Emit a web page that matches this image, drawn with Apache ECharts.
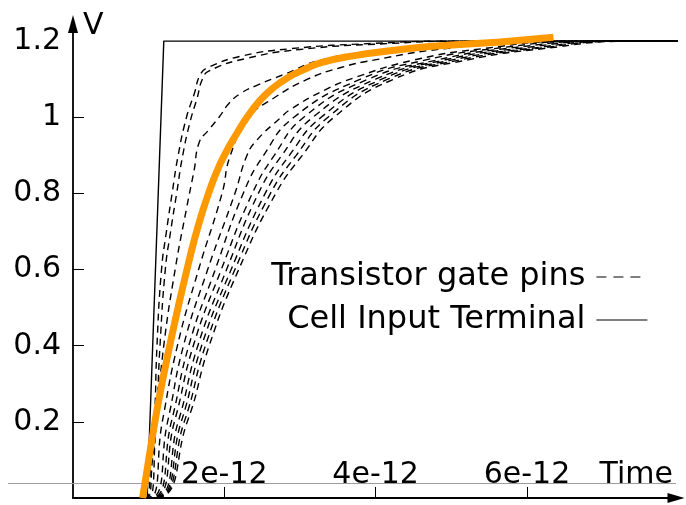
<!DOCTYPE html>
<html><head><meta charset="utf-8">
<script src="https://cdn.jsdelivr.net/npm/echarts@6/dist/echarts.min.js"></script>
<style>html,body{margin:0;padding:0;background:#fff}#c{width:686px;height:505px}</style>
</head><body><div id="c"></div>
<script>
// time values are in units of 1e-12 s, voltage in V
const X_TICKS = [2, 4, 6];
const X_TICK_LABELS = ['2e-12', '4e-12', '6e-12'];
const Y_TICKS = [0.2, 0.4, 0.6, 0.8, 1, 1.2];
const Y_TICK_LABELS = ['0.2', '0.4', '0.6', '0.8', '1', '1.2'];
const Y_TICK_MARKS = [0.2, 0.4, 0.6, 0.8, 1];
const X_NAME = 'Time';
const Y_NAME = 'V';
const LEGEND_GATE = 'Transistor gate pins';
const LEGEND_CELL = 'Cell Input Terminal';
const BASELINE_V = 0.038;

const cellInput = [[0,0],[0.98,0],[1.2,1.2],[8.05,1.2]];

const fitted = [[0.92,0],[1.0,0.1],[1.1,0.22],[1.2,0.325],[1.3,0.42],[1.4,0.51],[1.5,0.595],[1.6,0.675],[1.7,0.745],[1.8,0.805],[1.9,0.857],[2.0,0.9],[2.167,0.958],[2.3,1.0],[2.475,1.045],[2.65,1.078],[2.83,1.103],[3.05,1.125],[3.27,1.143],[3.66,1.16],[4.33,1.178],[5.0,1.19],[5.65,1.198],[6.35,1.21]];

const gateA  = [[0,0],[0.97,0],[1.03,0.1],[1.075,0.2],[1.11,0.4],[1.17,0.6],[1.235,0.7],[1.31,0.8],[1.39,0.9],[1.5,1.0],[1.6,1.06],[1.69,1.115],[1.8,1.132],[2.21,1.16],[2.87,1.18],[3.97,1.194],[5.0,1.2],[8.05,1.2]];
const gateA2 = [[0,0],[0.98,0],[1.05,0.1],[1.1,0.2],[1.15,0.4],[1.22,0.6],[1.29,0.7],[1.37,0.8],[1.45,0.9],[1.55,0.99],[1.64,1.05],[1.71,1.1],[1.8,1.122],[2.3,1.155],[3.0,1.178],[4.1,1.193],[5.2,1.2],[8.05,1.2]];
const gateB  = [[0,0],[1.0,0],[1.1,0.2],[1.2,0.4],[1.35,0.6],[1.5,0.76],[1.6,0.86],[1.67,0.935],[1.79,0.966],[1.93,1.0],[2.06,1.036],[2.21,1.062],[2.43,1.084],[2.78,1.112],[3.27,1.15],[4.0,1.172],[5.0,1.19],[6.0,1.198],[7.0,1.2],[8.05,1.2]];
const gateC  = [[0,0],[1.0,0],[1.18,0.2],[1.38,0.4],[1.66,0.6],[1.97,0.8],[2.08,0.9],[2.33,1.0],[2.65,1.05],[3.1,1.1],[3.53,1.13],[3.97,1.15],[4.9,1.18],[6.2,1.2],[8.05,1.2]];
const gateD  = [[0,0],[1.01,0],[1.25,0.2],[1.46,0.4],[1.78,0.6],[2.14,0.8],[2.3,0.9],[2.43,0.94],[2.75,1.0],[2.87,1.02],[3.31,1.07],[3.75,1.106],[4.5,1.15],[5.4,1.18],[6.6,1.2],[8.05,1.2]];
const gateE  = [[0,0],[1.02,0],[1.30,0.2],[1.53,0.4],[1.88,0.6],[2.25,0.8],[2.52,0.9],[2.92,1.0],[3.8,1.1],[4.65,1.15],[5.55,1.18],[6.8,1.2],[8.05,1.2]];
const gateF  = [[0,0],[1.03,0],[1.34,0.2],[1.59,0.4],[1.96,0.6],[2.37,0.8],[2.66,0.9],[3.05,1.0],[3.9,1.1],[4.8,1.15],[5.7,1.18],[7.0,1.2],[8.05,1.2]];
const gateG  = [[0,0],[1.04,0],[1.39,0.2],[1.65,0.4],[2.03,0.6],[2.45,0.8],[2.76,0.9],[3.17,1.0],[4.0,1.1],[4.9,1.15],[5.85,1.18],[7.1,1.2],[8.05,1.2]];
const gateH  = [[0,0],[1.05,0],[1.43,0.2],[1.70,0.4],[2.09,0.6],[2.54,0.8],[2.86,0.9],[3.28,1.0],[4.08,1.1],[5.0,1.15],[6.0,1.18],[7.2,1.2],[8.05,1.2]];
const gateI  = [[0,0],[1.06,0],[1.47,0.2],[1.75,0.4],[2.14,0.6],[2.61,0.8],[2.95,0.9],[3.37,1.0],[4.16,1.1],[5.1,1.15],[6.1,1.18],[7.3,1.2],[8.05,1.2]];
const gateJ  = [[0,0],[1.07,0],[1.51,0.2],[1.80,0.4],[2.19,0.6],[2.68,0.8],[3.03,0.9],[3.45,1.0],[4.24,1.1],[5.2,1.15],[6.2,1.18],[7.4,1.2],[8.05,1.2]];

const gateCurves = [gateA, gateA2, gateB, gateC, gateD, gateE, gateF, gateG, gateH, gateI, gateJ];

const FONT = 'DejaVu Sans';
const chart = echarts.init(document.getElementById('c'), null, {renderer: 'canvas'});

const series = gateCurves.map(d => ({
  name: LEGEND_GATE, type: 'line', data: d, showSymbol: false, symbol: 'none',
  smooth: 0.5, clip: false, z: 3,
  itemStyle: {color: '#000'},
  lineStyle: {color: '#000', width: 1.4, type: [7, 5]}
}));
series.push({
  name: LEGEND_CELL, type: 'line', data: cellInput, showSymbol: false, symbol: 'none',
  clip: false, z: 4, itemStyle: {color: '#000'},
  lineStyle: {color: '#000', width: 1.4, type: 'solid'}
});
series.push({
  name: 'fit', type: 'line', data: fitted, showSymbol: false, symbol: 'none',
  smooth: 0.5, clip: false, z: 5, itemStyle: {color: '#ff9900'},
  lineStyle: {color: '#ff9900', width: 7, cap: 'butt'}
});

const legendCommon = {
  orient: 'vertical', align: 'right', padding: 0, itemHeight: 14,
  itemStyle: {opacity: 0},
  textStyle: {fontFamily: FONT, fontSize: 32, color: '#000', padding: [0, 6, 0, 0]},
  selectedMode: false
};

chart.setOption({
  animation: false,
  backgroundColor: '#fff',
  grid: {left: 73, right: 10, top: 24, bottom: 7, containLabel: false},
  xAxis: {
    type: 'value', min: 0, max: 7.97,
    name: X_NAME, nameLocation: 'end', nameGap: -3,
    nameTextStyle: {fontFamily: FONT, fontSize: 30, color: '#000', align: 'right', verticalAlign: 'bottom', padding: [0, 0, 8, 0]},
    axisLine: {show: true, onZero: false, symbol: ['none', 'triangle'], symbolSize: [10, 17], lineStyle: {color: '#000', width: 1.8}},
    axisTick: {show: true, inside: true, length: 11, customValues: X_TICKS, lineStyle: {color: '#000', width: 1}},
    axisLabel: {show: true, inside: true, margin: 8, customValues: X_TICKS,
      formatter: v => X_TICK_LABELS[X_TICKS.indexOf(v)] || '',
      fontFamily: FONT, fontSize: 30, color: '#000'},
    splitLine: {show: false}
  },
  yAxis: {
    type: 'value', min: 0, max: 1.245,
    name: Y_NAME, nameLocation: 'end', nameGap: -2,
    nameTextStyle: {fontFamily: FONT, fontSize: 30, color: '#000', align: 'left', verticalAlign: 'middle', padding: [0, 0, 0, 10]},
    axisLine: {show: true, onZero: false, symbol: ['none', 'triangle'], symbolSize: [10, 18], lineStyle: {color: '#000', width: 1.8}},
    axisTick: {show: true, inside: true, length: 11, customValues: Y_TICK_MARKS, lineStyle: {color: '#000', width: 1}},
    axisLabel: {show: true, margin: 12, customValues: Y_TICKS,
      formatter: v => Y_TICK_LABELS[Y_TICKS.indexOf(v)] || '',
      fontFamily: FONT, fontSize: 30, color: '#000'},
    splitLine: {show: false}
  },
  legend: [
    Object.assign({}, legendCommon, {data: [LEGEND_GATE], right: 45, top: 261, itemWidth: 44,
      lineStyle: {type: [10, 7], width: 1.2, color: '#000'}}),
    Object.assign({}, legendCommon, {data: [LEGEND_CELL], right: 38, top: 304, itemWidth: 51,
      lineStyle: {width: 1.2, color: '#000'}})
  ],
  series: series
});

const yb = chart.convertToPixel({gridIndex: 0}, [0, BASELINE_V])[1];
chart.setOption({
  graphic: [{type: 'line', silent: true, z: 1,
    shape: {x1: 8, y1: yb, x2: 676, y2: yb},
    style: {stroke: '#9a9a9a', lineWidth: 1}}]
});
</script></body></html>
